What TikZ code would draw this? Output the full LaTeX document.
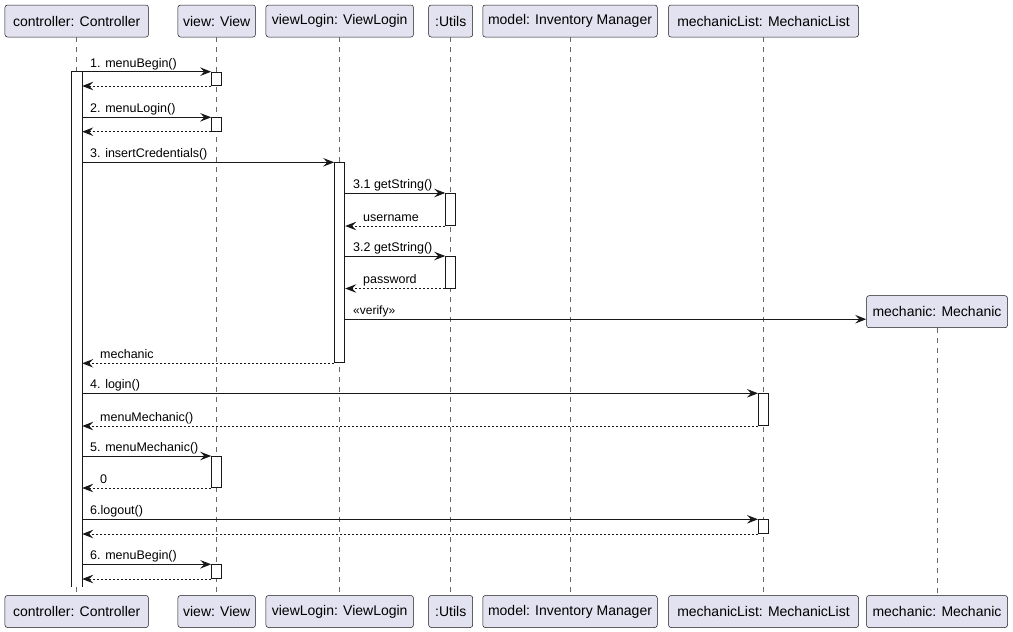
\documentclass[tikz,border=0pt]{standalone}
\usepackage{fontspec}
\setmainfont{Liberation Sans}
\usetikzlibrary{arrows.meta}
\definecolor{partfill}{HTML}{E2E2F0}
\definecolor{ink}{HTML}{181818}

\tikzset{
  part/.style={draw=ink, line width=0.5pt, fill=partfill, rounded corners=2.5pt,
    minimum height=32pt, inner xsep=0pt, font=\fontsize{14}{16}\selectfont, text=black},
  lifeline/.style={draw=ink!65, line width=0.6pt, dash pattern=on 5pt off 5pt},
  actbox/.style={draw=ink, line width=1pt, fill=white, minimum width=10pt,
    inner sep=0pt, anchor=north},
  msg/.style={draw=ink, line width=1pt, -{Stealth[length=11pt,width=8.5pt,inset=4pt]}},
  ret/.style={msg, dash pattern=on 2pt off 2pt},
  lbl/.style={font=\fontsize{12.5}{15}\selectfont, inner sep=0pt, anchor=base west, text=black},
}

\begin{document}
\begin{tikzpicture}[x=1pt, y=-1pt]
\useasboundingbox (0,0) rectangle (1013,632);

% participants, top row
\node[part, minimum width=143.5pt] (ctrlT) at (76.7,21)  {controller: Controller};
\node[part, minimum width=77.5pt]  (viewT) at (216.7,21) {view: View};
\node[part, minimum width=147.5pt] (vlT)   at (339.7,21) {viewLogin: ViewLogin};
\node[part, minimum width=44pt]    (utT)   at (450.7,21) {:Utils};
\node[part, minimum width=174.5pt] (modT)  at (570,21)   {model: Inventory Manager};
\node[part, minimum width=190pt]   (mlT)   at (763.5,21) {mechanicList: MechanicList};
\node[part, minimum width=141pt]   (mechT) at (937,311.7) {mechanic: Mechanic};

% participants, bottom row
\node[part, minimum width=143.5pt] (ctrlB) at (76.7,611.5)  {controller: Controller};
\node[part, minimum width=77.5pt]  (viewB) at (216.7,611.5) {view: View};
\node[part, minimum width=147.5pt] (vlB)   at (339.7,611.5) {viewLogin: ViewLogin};
\node[part, minimum width=44pt]    (utB)   at (450.7,611.5) {:Utils};
\node[part, minimum width=174.5pt] (modB)  at (570,611.5)   {model: Inventory Manager};
\node[part, minimum width=190pt]   (mlB)   at (763.5,611.5) {mechanicList: MechanicList};
\node[part, minimum width=141pt]   (mechB) at (937,611.5)   {mechanic: Mechanic};

% lifelines
\draw[lifeline] (ctrlT.south) -- (ctrlB.north);
\draw[lifeline] (viewT.south) -- (viewB.north);
\draw[lifeline] (vlT.south) -- (vlB.north);
\draw[lifeline] (utT.south) -- (utB.north);
\draw[lifeline] (modT.south) -- (modB.north);
\draw[lifeline] (mlT.south) -- (mlB.north);
\draw[lifeline] (mechT.south) -- (mechB.north);

% activation bars; the controller's stays open at the bottom
\node[actbox, draw=none, minimum height=514pt] (ca) at (76.7,71.7) {};
\draw[ink, line width=1pt] (ca.south west) -- (ca.north west) -- (ca.north east) -- (ca.south east);
\node[actbox, minimum height=13.3pt] (va1) at (216.7,71.7) {};
\node[actbox, minimum height=13.4pt] (va2) at (216.7,117.3) {};
\node[actbox, minimum height=200pt] (vla)  at (339.7,162.3) {};
\node[actbox, minimum height=32pt]  (ua1)  at (450.7,193)   {};
\node[actbox, minimum height=31.5pt] (ua2) at (450.7,256)   {};
\node[actbox, minimum height=31.7pt] (mla1) at (763.5,393.3) {};
\node[actbox, minimum height=31pt]  (va3)  at (216.7,456)   {};
\node[actbox, minimum height=13.7pt] (mla2) at (763.5,519.3) {};
\node[actbox, minimum height=13.7pt] (va4) at (216.7,564.3) {};

% 1. menuBegin
\draw[msg] (va1.north west -| ca.east) -- (va1.north west)
  node[lbl, pos=0, xshift=7.5pt, yshift=4.5pt] {1. menuBegin()};
\draw[ret] (va1.south west) -- (va1.south west -| ca.east);

% 2. menuLogin
\draw[msg] (va2.north west -| ca.east) -- (va2.north west)
  node[lbl, pos=0, xshift=7.5pt, yshift=4.5pt] {2. menuLogin()};
\draw[ret] (va2.south west) -- (va2.south west -| ca.east);

% 3. insertCredentials
\draw[msg] (vla.north west -| ca.east) -- (vla.north west)
  node[lbl, pos=0, xshift=7.5pt, yshift=4.5pt] {3. insertCredentials()};

\draw[msg] (ua1.north west -| vla.east) -- (ua1.north west)
  node[lbl, pos=0, xshift=7.5pt, yshift=4.5pt] {3.1 getString()};
\draw[ret] (ua1.south west) -- (ua1.south west -| vla.east)
  node[lbl, pos=1, xshift=17.5pt, yshift=5pt] {username};

\draw[msg] (ua2.north west -| vla.east) -- (ua2.north west)
  node[lbl, pos=0, xshift=7.5pt, yshift=4.5pt] {3.2 getString()};
\draw[ret] (ua2.south west) -- (ua2.south west -| vla.east)
  node[lbl, pos=1, xshift=17.5pt, yshift=5pt] {password};

% creation of the mechanic
\coordinate (vtip) at ([yshift=-7.5pt]mechT.west);
\draw[msg] (vtip -| vla.east) -- (vtip)
  node[lbl, pos=0, xshift=7.5pt, yshift=4.5pt, font=\fontsize{12}{14}\selectfont] {«verify»};

\draw[ret] (vla.south west) -- (vla.south west -| ca.east)
  node[lbl, pos=1, xshift=17.5pt, yshift=5pt] {mechanic};

% 4. login
\draw[msg] (mla1.north west -| ca.east) -- (mla1.north west)
  node[lbl, pos=0, xshift=7.5pt, yshift=4.5pt] {4. login()};
\draw[ret] (mla1.south west) -- (mla1.south west -| ca.east)
  node[lbl, pos=1, xshift=17.5pt, yshift=5pt] {menuMechanic()};

% 5. menuMechanic
\draw[msg] (va3.north west -| ca.east) -- (va3.north west)
  node[lbl, pos=0, xshift=7.5pt, yshift=4.5pt] {5. menuMechanic()};
\draw[ret] (va3.south west) -- (va3.south west -| ca.east)
  node[lbl, pos=1, xshift=17.5pt, yshift=5pt] {0};

% 6. logout
\draw[msg] (mla2.north west -| ca.east) -- (mla2.north west)
  node[lbl, pos=0, xshift=7.5pt, yshift=4.5pt] {6.logout()};
\draw[ret] (mla2.south west) -- (mla2.south west -| ca.east);

% 6. menuBegin
\draw[msg] (va4.north west -| ca.east) -- (va4.north west)
  node[lbl, pos=0, xshift=7.5pt, yshift=4.5pt] {6. menuBegin()};
\draw[ret] (va4.south west) -- (va4.south west -| ca.east);

\end{tikzpicture}
\end{document}
